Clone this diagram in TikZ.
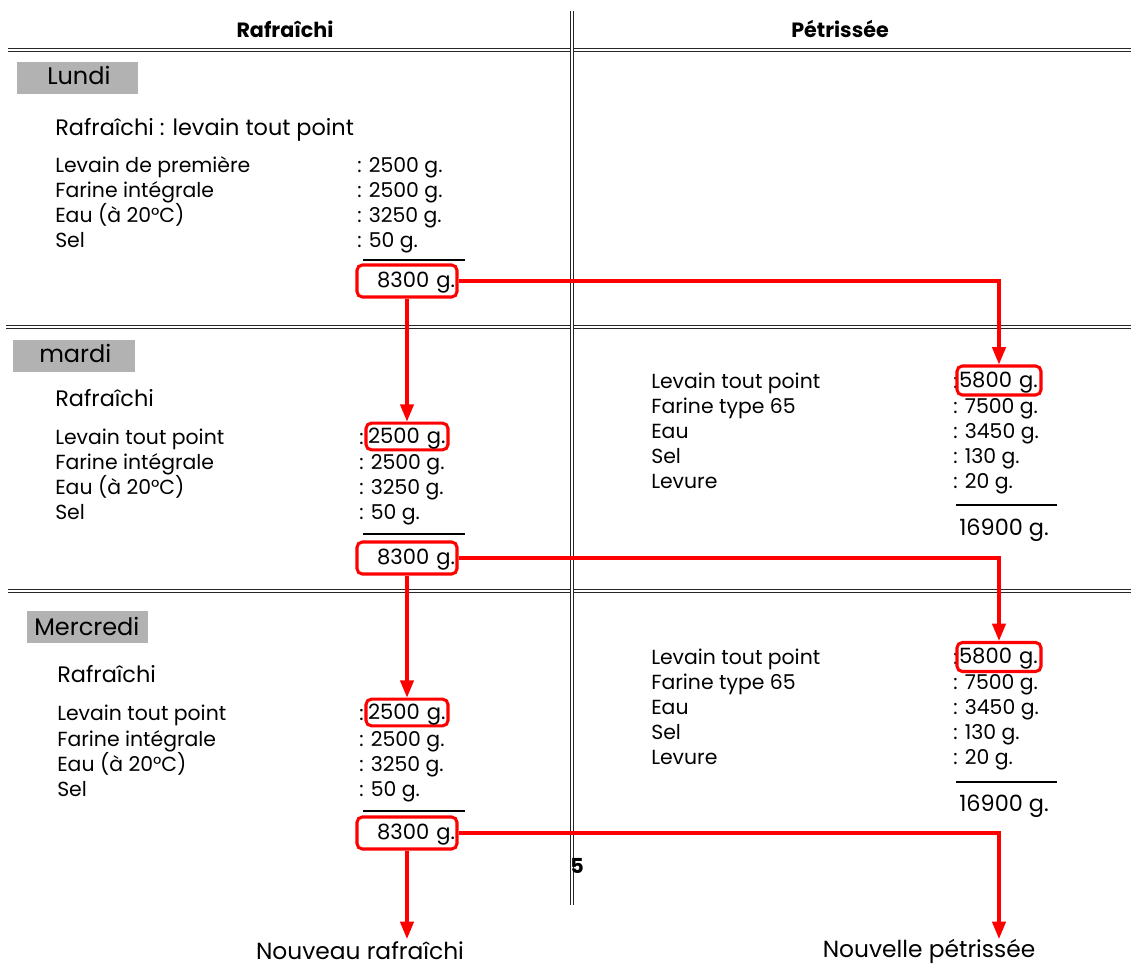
\documentclass[tikz,border=0pt]{standalone}
\usepackage{fontspec}
\setmainfont{Poppins}
\usetikzlibrary{arrows.meta}
\definecolor{daygray}{RGB}{178,178,178}
\definecolor{arrowred}{RGB}{255,0,0}
\begin{document}
\begin{tikzpicture}[x=0.75pt,y=-0.75pt,
  dline/.style={draw=black!85,line width=1.15pt,double=white,double distance=1pt},
  item/.style={anchor=west,inner sep=0pt,font=\fontsize{15.3}{17}\selectfont,text height=2.1ex,text depth=0.3ex},
  ttl/.style={anchor=west,inner sep=0pt,font=\fontsize{16.8}{19}\selectfont,text height=2.1ex,text depth=0.3ex},
  dayname/.style={anchor=west,inner sep=0pt,font=\fontsize{18}{20}\selectfont,text height=2.1ex,text depth=0.3ex},
  head/.style={inner sep=0pt,font=\bfseries\fontsize{15.5}{17}\selectfont},
  foot/.style={inner sep=0pt,font=\fontsize{17.5}{19}\selectfont},
  redbox/.style={draw=arrowred,line width=2.3pt,rounded corners=4pt,inner ysep=0pt,inner xsep=1.5pt,font=\fontsize{15.8}{17}\selectfont,text height=2.1ex,text depth=0.3ex},
  flow/.style={draw=arrowred,line width=2.4pt,-{Triangle[width=10pt,length=13pt]}},
  rule/.style={draw=black,line width=0.9pt}]
\useasboundingbox (0,0) rectangle (1131,969);

% grid lines
\draw[dline] (8,50) -- (1131,50);
\draw[dline] (6,327) -- (1131,327);
\draw[dline] (8,591) -- (1131,591);
\draw[dline] (572,11) -- (572,905);

% headers
\node[head] (hr) at (285,29) {Rafraîchi};
\node[head] (hp) at (840,29) {Pétrissée};

% ---------- Lundi ----------
\fill[daygray] (17,62) rectangle (138,94);
\node[dayname] (lundi) at (47,78) {Lundi};
\node[ttl] (t1) at (55,129) {Rafraîchi : levain tout point};
\node[item] (l1a) at (55,166) {Levain de première};
\node[item] (l1b) at (55,191) {Farine intégrale};
\node[item] (l1c) at (55,216) {Eau (à 20°C)};
\node[item] (l1d) at (55,241) {Sel};
\node[item] (v1a) at (357,166) {: 2500 g.};
\node[item] (v1b) at (357,191) {: 2500 g.};
\node[item] (v1c) at (357,216) {: 3250 g.};
\node[item] (v1d) at (357,241) {: 50 g.};
\draw[rule] (363,260) -- (465,260);
\node[redbox,minimum width=75pt,minimum height=24pt,text width=72pt,align=right] (s1) at (407,281) {8300 g.};

% ---------- mardi ----------
\fill[daygray] (13,340) rectangle (135,372);
\node[dayname] (mardi) at (39,356) {mardi};
\node[ttl] (t2) at (55,400) {Rafraîchi};
\node[item] (l2a) at (55,438) {Levain tout point};
\node[item] (l2b) at (55,463) {Farine intégrale};
\node[item] (l2c) at (55,488) {Eau (à 20°C)};
\node[item] (l2d) at (55,513) {Sel};
\node[item] (c2a) at (359,438) {:};
\node[redbox,minimum width=61.5pt,minimum height=20pt,text width=58.5pt,align=left] (r2) at (407,436.5) {2500 g.};
\node[item] (v2b) at (359,463) {: 2500 g.};
\node[item] (v2c) at (359,488) {: 3250 g.};
\node[item] (v2d) at (359,513) {: 50 g.};
\draw[rule] (363,534) -- (465,534);
\node[redbox,minimum width=75pt,minimum height=24pt,text width=72pt,align=right] (s2) at (407,558) {8300 g.};

\node[item] (p2a) at (651,382) {Levain tout point};
\node[item] (p2b) at (651,407) {Farine type 65};
\node[item] (p2c) at (651,432) {Eau};
\node[item] (p2d) at (651,457) {Sel};
\node[item] (p2e) at (651,482) {Levure};
\node[item] (q2a) at (953,382) {:};
\node[redbox,minimum width=63pt,minimum height=21.75pt,text width=60pt,align=left] (f2) at (999,380.5) {5800 g.};
\node[item] (q2b) at (953,407) {: 7500 g.};
\node[item] (q2c) at (953,432) {: 3450 g.};
\node[item] (q2d) at (953,457) {: 130 g.};
\node[item] (q2e) at (953,482) {: 20 g.};
\draw[rule] (956,505) -- (1057,505);
\node[ttl] (tot2) at (959,529) {16900 g.};

% ---------- Mercredi ----------
\fill[daygray] (27,611) rectangle (148,643);
\node[dayname] (mercredi) at (34,629) {Mercredi};
\node[ttl] (t3) at (57,676) {Rafraîchi};
\node[item] (l3a) at (57,714) {Levain tout point};
\node[item] (l3b) at (57,740) {Farine intégrale};
\node[item] (l3c) at (57,765) {Eau (à 20°C)};
\node[item] (l3d) at (57,790) {Sel};
\node[item] (c3a) at (359,714) {:};
\node[redbox,minimum width=61.5pt,minimum height=20pt,text width=58.5pt,align=left] (r3) at (407,712.5) {2500 g.};
\node[item] (v3b) at (359,740) {: 2500 g.};
\node[item] (v3c) at (359,765) {: 3250 g.};
\node[item] (v3d) at (359,790) {: 50 g.};
\draw[rule] (363,811) -- (465,811);
\node[redbox,minimum width=75pt,minimum height=24pt,text width=72pt,align=right] (s3) at (407,833) {8300 g.};

\node[item] (p3a) at (651,658) {Levain tout point};
\node[item] (p3b) at (651,683) {Farine type 65};
\node[item] (p3c) at (651,708) {Eau};
\node[item] (p3d) at (651,733) {Sel};
\node[item] (p3e) at (651,758) {Levure};
\node[item] (q3a) at (953,658) {:};
\node[redbox,minimum width=63pt,minimum height=21.75pt,text width=60pt,align=left] (f3) at (999,657) {5800 g.};
\node[item] (q3b) at (953,683) {: 7500 g.};
\node[item] (q3c) at (953,708) {: 3450 g.};
\node[item] (q3d) at (953,733) {: 130 g.};
\node[item] (q3e) at (953,758) {: 20 g.};
\draw[rule] (956,782) -- (1057,782);
\node[ttl] (tot3) at (959,805) {16900 g.};

% page number
\node[head] (pg) at (577,866) {5};

% footer
\node[foot] (nr) at (360,951) {Nouveau rafraîchi};
\node[foot] (np) at (929,951) {Nouvelle pétrissée};
\coordinate (endr) at (407,939);
\coordinate (endp) at (999,939);

% arrows
\draw[flow] (s1.south) -- (r2.north);
\draw[flow] (s1.east) -| (f2.north);
\draw[flow] (s2.south) -- (r3.north);
\draw[flow] (s2.east) -| (f3.north);
\draw[flow] (s3.south) -- (endr);
\draw[flow] (s3.east) -| (endp);
\end{tikzpicture}
\end{document}
